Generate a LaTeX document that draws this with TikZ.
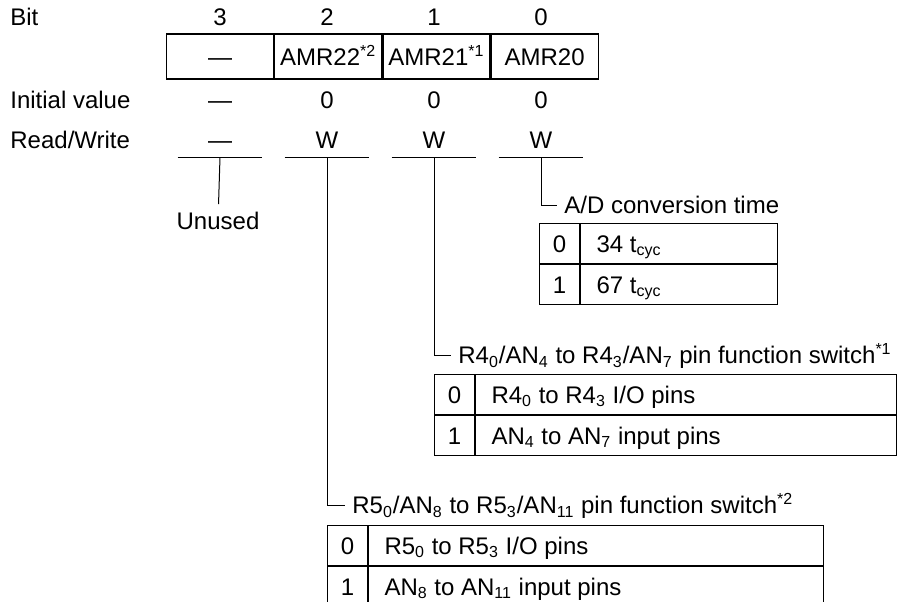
\documentclass[tikz,border=0pt]{standalone}
\usepackage{fontspec}
\setmainfont{Liberation Sans}
\usetikzlibrary{positioning}

\begin{document}
\begin{tikzpicture}[x=0.5pt, y=-0.5pt,
  every node/.style={font=\fontsize{12}{14}\selectfont, inner sep=0pt, text height=8.6pt, text depth=0pt},
  reg/.style={draw, line width=0.6pt, minimum width=53.5pt, minimum height=22.5pt},
  rwcell/.style={minimum width=42pt, minimum height=17pt},
  title/.style={anchor=west, inner sep=3.5pt},
  key/.style={draw, line width=0.5pt, minimum width=20pt, minimum height=20pt},
  val/.style={draw, line width=0.5pt, inner xsep=8pt, minimum height=20pt,
    execute at begin node={\hbox to #1\bgroup}, execute at end node={\hfil\egroup}},
  conn/.style={line width=0.5pt}
]
\useasboundingbox (0,0) rectangle (909,601);

% row labels
\node[anchor=west] (bitlbl) at (10,17) {Bit};
\node[anchor=west] (ivlbl) at (10,100) {Initial value};
\node[anchor=west] (rwlbl) at (10,140) {Read/Write};

\foreach \b/\x in {3/220,2/327,1/434,0/541}
  \node (bit\b) at (\x,17) {\b};

% register
\node[reg] (r3) at (220,56.5) {—};
\node[reg, right=0pt of r3] (r2) {AMR22\textsuperscript{*2}};
\node[reg, right=0pt of r2] (r1) {AMR21\textsuperscript{*1}};
\node[reg, right=0pt of r1] (r0) {AMR20};

\foreach \b/\x/\v in {3/220/—,2/327/0,1/434/0,0/541/0}
  \node (iv\b) at (\x,100) {\v};

\foreach \b/\x/\v in {3/220/—,2/327/W,1/434/W,0/541/W}{
  \node[rwcell] (rw\b) at (\x,140) {\v};
  \draw[conn] (rw\b.south west) -- (rw\b.south east);
}

\node[inner sep=4pt] (unused) at (218,221) {Unused};
\draw[conn] (rw3.south) -- (unused);

% bit 0
\node[title] (adtitle) at (557,205) {A/D conversion time};
\draw[conn] (rw0.south) |- (adtitle.west);
\node[key, anchor=north west] (ad0k) at (539,223) {0};
\node[val=82.5pt, right=0pt of ad0k] (ad0v) {34 t\textsubscript{cyc}};
\node[key, below=0pt of ad0k] (ad1k) {1};
\node[val=82.5pt, right=0pt of ad1k] (ad1v) {67 t\textsubscript{cyc}};

% bit 1
\node[title] (r4title) at (451,355) {R4\textsubscript{0}/AN\textsubscript{4} to R4\textsubscript{3}/AN\textsubscript{7} pin function switch\textsuperscript{*1}};
\draw[conn] (rw1.south) |- (r4title.west);
\node[key, anchor=north west] (r40k) at (434,374) {0};
\node[val=194.5pt, right=0pt of r40k] (r40v) {R4\textsubscript{0} to R4\textsubscript{3} I/O pins};
\node[key, below=0pt of r40k] (r41k) {1};
\node[val=194.5pt, right=0pt of r41k] (r41v) {AN\textsubscript{4} to AN\textsubscript{7} input pins};

% bit 2
\node[title] (r5title) at (345,505) {R5\textsubscript{0}/AN\textsubscript{8} to R5\textsubscript{3}/AN\textsubscript{11} pin function switch\textsuperscript{*2}};
\draw[conn] (rw2.south) |- (r5title.west);
\node[key, anchor=north west] (r50k) at (327,525) {0};
\node[val=211.5pt, right=0pt of r50k] (r50v) {R5\textsubscript{0} to R5\textsubscript{3} I/O pins};
\node[key, below=0pt of r50k] (r51k) {1};
\node[val=211.5pt, right=0pt of r51k] (r51v) {AN\textsubscript{8} to AN\textsubscript{11} input pins};
\end{tikzpicture}
\end{document}
